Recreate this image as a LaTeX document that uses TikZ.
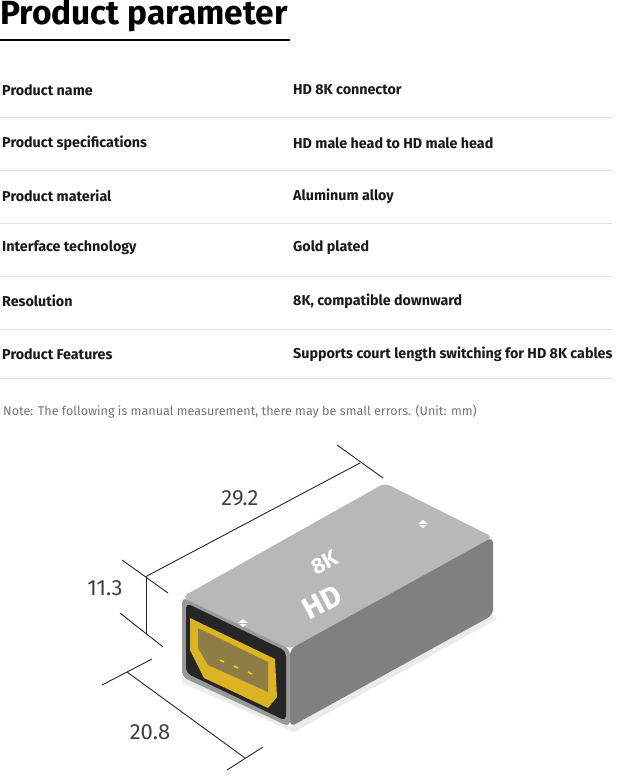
\documentclass[tikz,border=0pt]{standalone}
\usepackage{fontspec}
\setmainfont{Fira Sans}
\begin{document}
\begin{tikzpicture}[x=1pt,y=-1pt,
 lbl/.style={anchor=west,inner sep=0,font=\fontsize{14.3}{16}\selectfont\bfseries,text=black!90},
 sep/.style={draw=black!12,line width=0.6pt},
 dim/.style={draw=black!85,line width=0.9pt},
 dimtxt/.style={font=\fontsize{22}{24}\selectfont,text=black!75,inner sep=0}]
\useasboundingbox (0,0) rectangle (640,779);
\node[anchor=west,inner sep=0,font=\fontsize{33.5}{36}\selectfont\bfseries] (title) at (0,16) {Product parameter};
\draw[line width=1.5pt] (0,40) -- (290,40);
\foreach \y/\a/\b [count=\i] in {90/Product name/HD 8K connector,143/Product specifications/HD male head to HD male head,196/Product material/Aluminum alloy,248/Interface technology/Gold plated,301/Resolution/{8K, compatible downward},354/Product Features/Supports court length switching for HD 8K cables}{
 \node[lbl] (a\i) at (2,\y) {\a};
 \node[lbl] (b\i) at (293,\y) {\b};
}
\foreach \y in {117,170,223,276,329,378}{\draw[sep] (0,\y) -- (612,\y);}
\node[anchor=west,inner sep=0,font=\fontsize{12.6}{14}\selectfont,text=black!55] (note) at (3,412) {Note: The following is manual measurement, there may be small errors. (Unit: mm)};
% device
\coordinate (FTL) at (182,597); \coordinate (FTR) at (290,649);
\coordinate (FBR) at (290,727); \coordinate (FBL) at (182,677);
\coordinate (BTL) at (385,483); \coordinate (BTR) at (493,537);
\coordinate (BBR) at (493,615);
\fill[black!8] (FBL) -- (FBR) -- (BBR) -- ++(4,4) -- (294,732) -- (182,683) -- cycle;
\fill[rounded corners=6pt, fill=black!28] (FTL) -- (BTL) -- (BTR) -- (FTR) -- cycle;
\fill[rounded corners=6pt, fill=black!50] (FTR) -- (BTR) -- (BBR) -- (FBR) -- cycle;
\fill[rounded corners=6pt, fill=black!40] (FTL) -- (FTR) -- (FBR) -- (FBL) -- cycle;
\fill[rounded corners=5pt, fill=black!85] (186,603) -- (286,651) -- (286,721) -- (186,673) -- cycle;
\fill[fill=yellow!60!orange!85!black] (190,618) -- (275,659) -- (277,697) -- (268,708) -- (204,678) -- (190,650) -- cycle;
\fill[fill=yellow!60!orange!50!black] (198,628) -- (268,662) -- (268,692) -- (208,665) -- (198,648) -- cycle;
\foreach \k in {0,1,2}{\draw[yellow!70!orange,line width=1.5pt] (220+\k*14,660+\k*6) -- (224+\k*14,662+\k*6);}
\node[font=\fontsize{30}{30}\selectfont\bfseries,text=white,rotate=28,inner sep=0] (hd) at (322,602) {HD};
\node[font=\fontsize{22}{22}\selectfont\bfseries,text=white,rotate=28,inner sep=0] (k8) at (325,563) {8K};
\fill[white] (243,619) -- (238,623) -- (243,627) -- (248,623) -- cycle;
\fill[white] (423,520) -- (418,524) -- (423,528) -- (428,524) -- cycle;
\draw[black!30,line width=0.5pt] (238,623) -- (248,623) (418,524) -- (428,524);
% dimensions
\coordinate (e1a) at (122,560); \coordinate (e1b) at (168,593);
\coordinate (e2a) at (337,445); \coordinate (e2b) at (383,478);
\draw[dim] (e1a) -- (e1b) (e2a) -- (e2b);
\draw[dim] (147,576) -- (360,463);
\node[dimtxt] (d1) at (240,498) {29.2};
\draw[dim] (120,613) -- (163,647);
\draw[dim] (146,576) -- (146,634);
\node[dimtxt] (d2) at (105,588) {11.3};
\draw[dim] (102,685) -- (152,659) (227,770) -- (263,747);
\draw[dim] (127,672) -- (245,758);
\node[dimtxt] (d3) at (150,732) {20.8};
\end{tikzpicture}
\end{document}
